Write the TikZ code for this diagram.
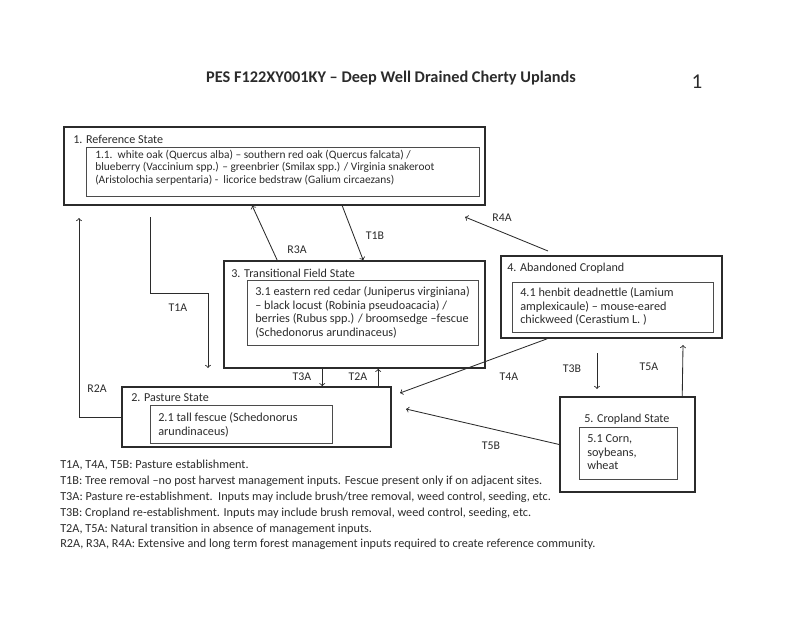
\documentclass[tikz,border=0pt]{standalone}
\usepackage{fontspec}
\setmainfont{Carlito}
\usetikzlibrary{fit,calc}
\definecolor{inkgray}{HTML}{2B2B2B}
\tikzset{
  outerbox/.style={draw=inkgray, line width=1.1pt, inner sep=0pt},
  innerbox/.style={draw=inkgray!85, line width=0.6pt, inner sep=0pt},
  boxtitle/.style={anchor=west, inner sep=0pt, text=inkgray, font=\fontsize{8.6}{10}\selectfont},
  boxtext/.style={anchor=north west, inner sep=0pt, align=left, text=inkgray, font=\fontsize{8.7}{9.8}\selectfont},
  lbl/.style={inner sep=0pt, text=inkgray, font=\fontsize{8.4}{9.8}\selectfont},
  conn/.style={draw=inkgray, line width=0.6pt, ->},
}
\begin{document}
\begin{tikzpicture}[x=0.025cm, y=-0.025cm]
\useasboundingbox (0,0) rectangle (800,617);

% heading
\node[text=inkgray, font=\fontsize{11.6}{13}\bfseries\selectfont] (title) at (391,78) {PES F122XY001KY – Deep Well Drained Cherty Uplands};
\node[text=inkgray, font=\fontsize{15}{18}\selectfont] (pagenum) at (697,82) {1};

% 1. reference state
\node[outerbox, fit={(64,127) (485,205)}] (ref) {};
\node[innerbox, fit={(86,147) (479,196)}] (refin) {};
\node[boxtitle] (reftitle) at (73,139) {1. Reference State};
\node[boxtext, font=\fontsize{8.1}{8.7}\selectfont] (reftext) at (95,150) {1.1.\ \ white oak (Quercus alba) – southern red oak (Quercus falcata) /\\
  blueberry (Vaccinium spp.) – greenbrier (Smilax spp.) / Virginia snakeroot\\
  (Aristolochia serpentaria) -\ \ licorice bedstraw (Galium circaezans)};

% 3. transitional field state
\node[outerbox, fit={(224,261) (485,368)}] (trans) {};
\node[innerbox, fit={(247,280) (478,345)}] (transin) {};
\node[boxtitle] (transtitle) at (231,273) {3. Transitional Field State};
\node[boxtext] (transtext) at (255,286) {3.1 eastern red cedar (Juniperus virginiana)\\
  – black locust (Robinia pseudoacacia) /\\
  berries (Rubus spp.) / broomsedge –fescue\\
  (Schedonorus arundinaceus)};

% 4. abandoned cropland
\node[outerbox, fit={(501,256) (722,338)}] (aband) {};
\node[innerbox, fit={(512,282) (713,332)}] (abandin) {};
\node[boxtitle] (abandtitle) at (507,268) {4. Abandoned Cropland};
\node[boxtext] (abandtext) at (520,287) {4.1 henbit deadnettle (Lamium\\
  amplexicaule) – mouse-eared\\
  chickweed (Cerastium L. )};

% 2. pasture state
\node[outerbox, fit={(122,387) (391,447)}] (past) {};
\node[innerbox, fit={(150,405) (332,443)}] (pastin) {};
\node[boxtitle] (pasttitle) at (131,398) {2. Pasture State};
\node[boxtext] (pasttext) at (158,412) {2.1 tall fescue (Schedonorus\\
  arundinaceus)};

% 5. cropland state
\node[outerbox, fit={(560,397) (695,492)}] (crop) {};
\node[innerbox, fit={(579,427) (677,479)}] (cropin) {};
\node[boxtitle] (croptitle) at (584,419) {5. Cropland State};
\node[boxtext] (croptext) at (587,434) {5.1 Corn,\\
  soybeans,\\
  wheat};

% free ends of connectors
\coordinate (r2a-end) at (79,218);
\coordinate (t1a-start) at (150,217);
\coordinate (t1a-end) at (208,368);
\coordinate (r4a-start) at (548,251);
\coordinate (r4a-end) at (465,217);
\coordinate (t4a-end) at (400,393);
\coordinate (t3b-start) at (597,353);
\coordinate (t3b-end) at (597,389);
\coordinate (t5a-end) at (683,345);
\coordinate (t5b-end) at (406,409);

% transitions
\draw[conn] (past.west) -| (r2a-end);
\draw[conn] (t1a-start) |- ($(t1a-end)+(0,-75)$) -- (t1a-end);
\draw[conn] ($(trans.north west)+(54,0)$) -- ($(ref.south west)+(189,0)$);
\draw[conn] ($(ref.south west)+(279,0)$) -- ($(trans.north west)+(140,0)$);
\draw[conn] (r4a-start) -- (r4a-end);
\draw[conn] ($(trans.south west)+(99,0)$) -- ($(past.north west)+(201,0)$);
\draw[conn] ($(past.north west)+(257,0)$) -- ($(trans.south west)+(155,0)$);
\draw[conn] ($(aband.south west)+(47,0)$) -- (t4a-end);
\draw[conn] (t3b-start) -- (t3b-end);
\draw[conn] ($(crop.north west)+(123,0)$) -- (t5a-end);
\draw[conn] (crop.west) -- (t5b-end);

% transition labels
\node[lbl] (lr2a) at (97,389) {R2A};
\node[lbl] (lt1a) at (178,308) {T1A};
\node[lbl] (lr3a) at (297,250) {R3A};
\node[lbl] (lt1b) at (375,236) {T1B};
\node[lbl] (lr4a) at (502,218) {R4A};
\node[lbl] (lt3a) at (302,377) {T3A};
\node[lbl] (lt2a) at (358,377) {T2A};
\node[lbl] (lt4a) at (509,377) {T4A};
\node[lbl] (lt3b) at (572,369) {T3B};
\node[lbl] (lt5a) at (649,367) {T5A};
\node[lbl] (lt5b) at (491,446) {T5B};

% legend
\node[anchor=north west, inner sep=0pt, align=left, text=inkgray, font=\fontsize{8.7}{11.24}\selectfont] (legend) at (60,460) {T1A, T4A, T5B: Pasture establishment.\\
  T1B: Tree removal –no post harvest management inputs. Fescue present only if on adjacent sites.\\
  T3A: Pasture re-establishment.\ \ Inputs may include brush/tree removal, weed control, seeding, etc.\\
  T3B: Cropland re-establishment. Inputs may include brush removal, weed control, seeding, etc.\\
  T2A, T5A: Natural transition in absence of management inputs.\\
  R2A, R3A, R4A: Extensive and long term forest management inputs required to create reference community.};
\end{tikzpicture}
\end{document}
